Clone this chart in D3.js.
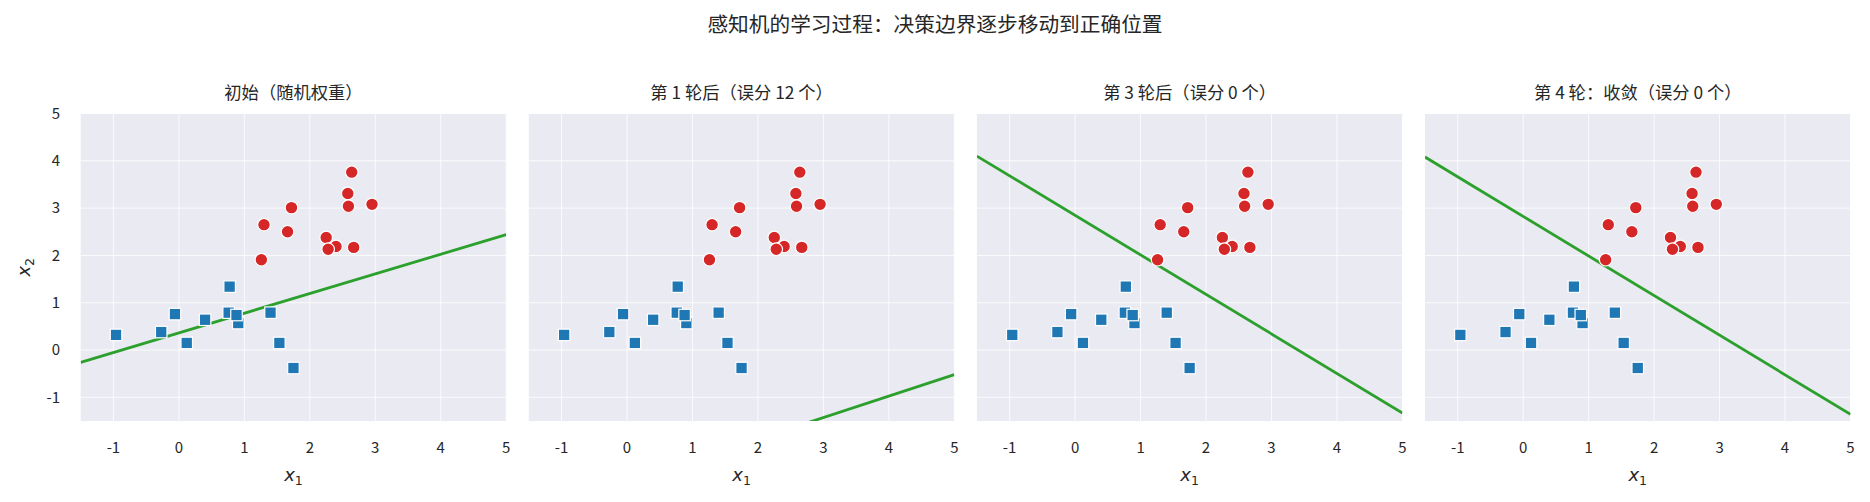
<!DOCTYPE html>
<html>
<head>
<meta charset="utf-8">
<script src="https://cdn.jsdelivr.net/npm/d3@7"></script>
<style>
  body { margin: 0; background: #fff; }
  text { font-family: "Noto Sans CJK SC", "Noto Sans", sans-serif; fill: #262626; }
</style>
</head>
<body>
<div id="chart"></div>
<script>
// data
var suptitle = "感知机的学习过程：决策边界逐步移动到正确位置";
var panelTitles = ["初始（随机权重）", "第 1 轮后（误分 12 个）", "第 3 轮后（误分 0 个）", "第 4 轮：收敛（误分 0 个）"];

var blueX = [-0.96, -0.27, -0.06, 0.12, 0.40, 0.775, 0.76, 0.907, 0.88, 1.40, 1.535, 1.75];
var blueY = [0.32, 0.38, 0.76, 0.15, 0.64, 1.34, 0.79, 0.57, 0.74, 0.79, 0.15, -0.38];
var redX = [1.26, 1.30, 1.66, 1.72, 2.40, 2.25, 2.28, 2.67, 2.58, 2.64, 2.59, 2.95];
var redY = [1.91, 2.65, 2.50, 3.01, 2.19, 2.38, 2.13, 2.17, 3.31, 3.76, 3.04, 3.08];

// decision boundary: y value at x=-1.5 and at x=5 for each panel
var lineStartY = [-0.26, -3.47, 4.10, 4.08];
var lineEndY = [2.44, -0.52, -1.33, -1.36];

var xTicks = [-1, 0, 1, 2, 3, 4, 5];
var yTicks = [-1, 0, 1, 2, 3, 4, 5];
var xDomain = [-1.5, 5], yDomain = [-1.5, 5];

var width = 1870, height = 502;
var left0 = 80.7, step = 448.1, pw = 425.5;
var plotTop = 113.5, plotBottom = 421;

var svg = d3.select("#chart").append("svg")
  .attr("width", width)
  .attr("height", height);

svg.append("text")
  .attr("x", width / 2)
  .attr("y", 25)
  .attr("dy", "0.35em")
  .attr("text-anchor", "middle")
  .style("font-size", "20.7px")
  .text(suptitle);

var y = d3.scaleLinear().domain(yDomain).range([plotBottom, plotTop]);

panelTitles.forEach(function(title, i) {
  var left = left0 + i * step;
  var x = d3.scaleLinear().domain(xDomain).range([left, left + pw]);
  var g = svg.append("g");

  g.append("rect")
    .attr("x", left).attr("y", plotTop)
    .attr("width", pw).attr("height", plotBottom - plotTop)
    .attr("fill", "#eaeaf2");

  g.append("clipPath").attr("id", "clip" + i)
    .append("rect")
    .attr("x", left).attr("y", plotTop)
    .attr("width", pw).attr("height", plotBottom - plotTop);

  // grid
  g.selectAll(".gx").data(xTicks).enter().append("line")
    .attr("x1", d => x(d)).attr("x2", d => x(d))
    .attr("y1", plotTop).attr("y2", plotBottom)
    .attr("stroke", "#fff").attr("stroke-width", 0.8);
  g.selectAll(".gy").data(yTicks).enter().append("line")
    .attr("x1", left).attr("x2", left + pw)
    .attr("y1", d => y(d)).attr("y2", d => y(d))
    .attr("stroke", "#fff").attr("stroke-width", 0.8);

  // x tick labels
  g.selectAll(".tx").data(xTicks).enter().append("text")
    .attr("x", d => x(d)).attr("y", 448)
    .attr("dy", "0.35em")
    .attr("text-anchor", "middle")
    .style("font-size", "15px")
    .text(d => d < 0 ? "-" + Math.abs(d) : d);

  if (i == 0) {
    g.selectAll(".ty").data(yTicks).enter().append("text")
      .attr("x", 60).attr("y", d => y(d))
      .attr("dy", "0.35em")
      .attr("text-anchor", "end")
      .style("font-size", "15px")
      .text(d => d < 0 ? "-" + Math.abs(d) : d);

    var yl = g.append("text")
      .attr("transform", "translate(30," + ((plotTop + plotBottom) / 2) + ") rotate(-90)")
      .attr("text-anchor", "middle")
      .style("font-family", "DejaVu Sans")
      .style("font-size", "18px");
    yl.append("tspan").style("font-style", "italic").text("x");
    yl.append("tspan").attr("dy", 4).style("font-size", "12.5px").text("2");
  }

  var xl = g.append("text")
    .attr("x", x(1.75)).attr("y", 481)
    .attr("text-anchor", "middle")
    .style("font-family", "DejaVu Sans")
    .style("font-size", "18px");
  xl.append("tspan").style("font-style", "italic").text("x");
  xl.append("tspan").attr("dy", 4).style("font-size", "12.5px").text("1");

  g.append("text")
    .attr("x", left + pw / 2).attr("y", 93)
    .attr("dy", "0.35em")
    .attr("text-anchor", "middle")
    .style("font-size", "17.3px")
    .text(title);

  // decision boundary
  g.append("line")
    .attr("clip-path", "url(#clip" + i + ")")
    .attr("x1", x(xDomain[0])).attr("y1", y(lineStartY[i]))
    .attr("x2", x(xDomain[1])).attr("y2", y(lineEndY[i]))
    .attr("stroke", "#2ca02c")
    .attr("stroke-width", 2.8);

  var sq = 11.5;
  g.selectAll(".blue").data(blueX).enter().append("rect")
    .attr("x", (d, j) => x(d) - sq / 2)
    .attr("y", (d, j) => y(blueY[j]) - sq / 2)
    .attr("width", sq).attr("height", sq)
    .attr("fill", "#1f77b4")
    .attr("stroke", "#fff").attr("stroke-width", 1.2);

  g.selectAll(".red").data(redX).enter().append("circle")
    .attr("cx", d => x(d))
    .attr("cy", (d, j) => y(redY[j]))
    .attr("r", 6.3)
    .attr("fill", "#d62728")
    .attr("stroke", "#fff").attr("stroke-width", 1.2);
});
</script>
</body>
</html>
